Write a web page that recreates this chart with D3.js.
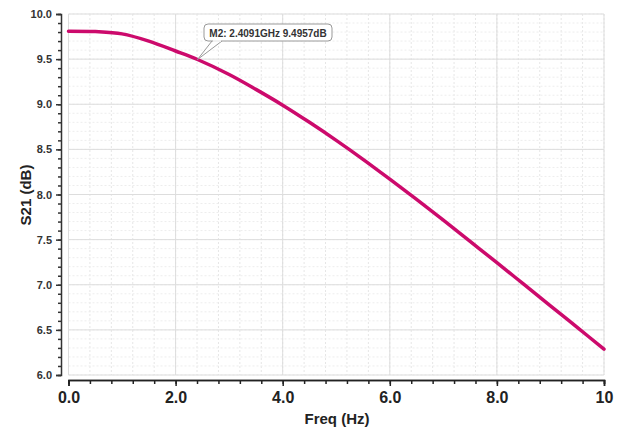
<!DOCTYPE html>
<html>
<head>
<meta charset="utf-8">
<script src="https://cdn.jsdelivr.net/npm/d3@7"></script>
<style>
  body { margin: 0; background: #fff; }
  text { font-family: "Liberation Sans", Arial, sans-serif; }
</style>
</head>
<body>
<div id="chart"></div>
<script>
// S21 response
const freqGHz = [0, 0.5, 1.0, 1.5, 2.0, 2.4091, 3.0, 3.5, 4.0, 4.5, 5.0, 5.5, 6.0, 6.5, 7.0, 7.5, 8.0, 8.5, 9.0, 9.5, 10];
const s21dB   = [9.81, 9.805, 9.78, 9.70, 9.59, 9.4957, 9.33, 9.165, 8.99, 8.80, 8.60, 8.39, 8.17, 7.945, 7.715, 7.48, 7.245, 7.006, 6.767, 6.527, 6.287];
const xTickLabels = ["0.0", "2.0", "4.0", "6.0", "8.0", "10"];
const yTickLabels = ["6.0", "6.5", "7.0", "7.5", "8.0", "8.5", "9.0", "9.5", "10.0"];
const marker = { name: "M2", freq: 2.4091, value: 9.4957 };

const width = 622, height = 432;
const svg = d3.select("#chart").append("svg")
    .attr("width", width)
    .attr("height", height);

const x = d3.scaleLinear().domain([0, 10]).range([68.5, 604]);
const y = d3.scaleLinear().domain([6, 10]).range([375, 14]);

// Grid (minor first, then major)
const grid = svg.append("g").attr("class", "grid");
d3.range(0, 10.001, 0.4).forEach(v => {
    grid.append("line")
        .attr("x1", x(v)).attr("x2", x(v))
        .attr("y1", y(10)).attr("y2", y(6))
        .attr("stroke", "#e6e6e6").attr("stroke-width", 1)
        .attr("stroke-dasharray", "2,2");
});
d3.range(6, 10.001, 0.1).forEach(v => {
    grid.append("line")
        .attr("x1", x(0)).attr("x2", x(10))
        .attr("y1", y(v)).attr("y2", y(v))
        .attr("stroke", "#ededed").attr("stroke-width", 1)
        .attr("stroke-dasharray", "2,2");
});
d3.range(6, 10.001, 0.5).forEach(v => {
    grid.append("line")
        .attr("x1", x(0)).attr("x2", x(10))
        .attr("y1", y(v)).attr("y2", y(v))
        .attr("stroke", "#dddddd").attr("stroke-width", 1);
});
d3.range(0, 10.001, 2).forEach(v => {
    grid.append("line")
        .attr("x1", x(v)).attr("x2", x(v))
        .attr("y1", y(10)).attr("y2", y(6))
        .attr("stroke", "#dddddd").attr("stroke-width", 1);
});

// Y axis (offset left of plot)
const yAxisX = 61;
const yMinor = svg.append("g").attr("transform", `translate(${yAxisX},0)`)
    .call(d3.axisLeft(y).tickValues(d3.range(6, 10.001, 0.1)).tickSize(3).tickFormat(""));
yMinor.select(".domain").remove();
const yMajor = svg.append("g").attr("transform", `translate(${yAxisX},0)`)
    .call(d3.axisLeft(y).tickValues(yTickLabels.map(Number)).tickSize(5).tickPadding(4)
        .tickFormat((d, i) => yTickLabels[i]));
[yMinor, yMajor].forEach(g => g.selectAll("line, path").attr("stroke", "#333").attr("stroke-width", 1.5));
yMajor.selectAll("text")
    .attr("font-size", 11).attr("font-weight", "bold").attr("fill", "#333");

// X axis
const xAxisY = 380;
const xMinor = svg.append("g").attr("transform", `translate(0,${xAxisY})`)
    .call(d3.axisBottom(x).tickValues(d3.range(0, 10.001, 0.4)).tickSize(4).tickFormat(""));
const xMajor = svg.append("g").attr("transform", `translate(0,${xAxisY})`)
    .call(d3.axisBottom(x).tickValues(xTickLabels.map(Number)).tickSize(6).tickPadding(6)
        .tickFormat((d, i) => xTickLabels[i]));
[xMinor, xMajor].forEach(g => g.selectAll("line, path").attr("stroke", "#222").attr("stroke-width", 1.5));
xMajor.selectAll("text")
    .attr("font-size", 16).attr("font-weight", "bold").attr("fill", "#222");

// Axis titles
svg.append("text")
    .attr("x", 337).attr("y", 424)
    .attr("text-anchor", "middle")
    .attr("font-size", 15).attr("font-weight", "bold").attr("fill", "#222")
    .text("Freq (Hz)");
const yLabelX = 31, yLabelY = 195;
svg.append("text")
    .attr("x", yLabelX).attr("y", yLabelY)
    .attr("text-anchor", "middle")
    .attr("transform", `rotate(-90, ${yLabelX}, ${yLabelY})`)
    .attr("font-size", 15).attr("font-weight", "bold").attr("fill", "#222")
    .text("S21 (dB)");

// Curve
const line = d3.line()
    .x((d, i) => x(freqGHz[i]))
    .y(d => y(d))
    .curve(d3.curveCatmullRom.alpha(0.5));
svg.append("path")
    .datum(s21dB)
    .attr("fill", "none")
    .attr("stroke", "#cc0a6c")
    .attr("stroke-width", 3.5)
    .attr("stroke-linecap", "round")
    .attr("d", line);

// Marker callout
const mx = x(marker.freq), my = y(marker.value);
const bx = 204, by = 24, bw = 128, bh = 17;
svg.append("path")
    .attr("d", `M${bx + 8},${by + bh} L${mx},${my} L${bx + 18},${by + bh}`)
    .attr("fill", "#fff").attr("stroke", "#999").attr("stroke-width", 1);
svg.append("rect")
    .attr("x", bx).attr("y", by).attr("width", bw).attr("height", bh)
    .attr("rx", 4)
    .attr("fill", "#fff").attr("stroke", "#999").attr("stroke-width", 1);
svg.append("line")
    .attr("x1", bx + 9).attr("x2", bx + 17)
    .attr("y1", by + bh).attr("y2", by + bh)
    .attr("stroke", "#fff").attr("stroke-width", 1.5);
svg.append("text")
    .attr("x", bx + bw / 2).attr("y", by + 12.5)
    .attr("text-anchor", "middle")
    .attr("font-size", 10).attr("font-weight", "bold").attr("fill", "#333")
    .text(`${marker.name}: ${marker.freq}GHz ${marker.value}dB`);
</script>
</body>
</html>
